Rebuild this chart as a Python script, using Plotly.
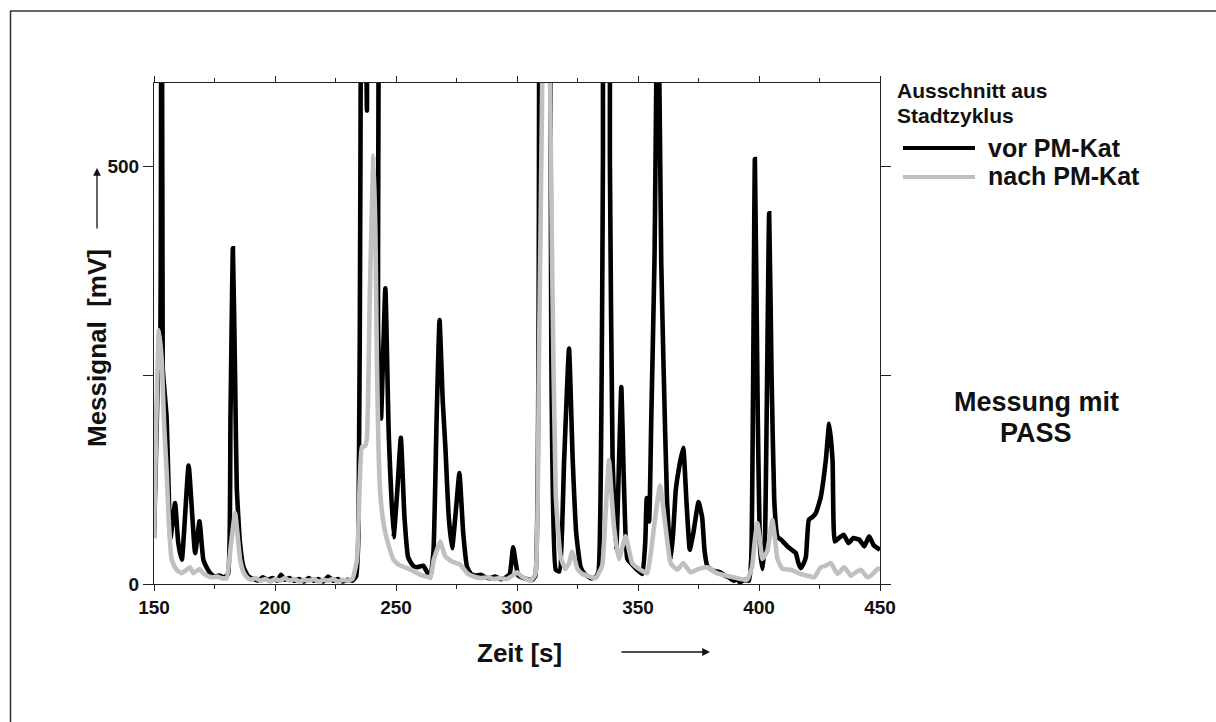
import plotly.graph_objects as go

# ---------------- data ----------------
t_vor = [150, 151.5, 152.6, 153.1, 153.6, 155.2, 156.8, 158.7, 160, 161.5, 164.3, 167, 168.8, 170.4,
         172.3, 173.5, 175, 177, 179, 180.6, 181.6, 182.6, 183.5, 184.2, 185.5, 187, 189, 191, 193,
         195, 197, 199, 201, 202.5, 204, 206, 208, 210, 212, 214, 216, 218, 220, 222, 224, 226, 228,
         230, 232, 233.5, 234.5, 235.3, 236, 237, 238, 239.5, 241.3, 242.6, 243.8, 245.6, 247, 249,
         250.5, 252, 253.5, 255, 257, 258.7, 261.3, 262.5, 264.2, 265.5, 266.8, 268, 269.3, 270.4,
         271.8, 273.2, 274.8, 276.2, 277.8, 279.4, 281, 283, 285, 287, 289, 291, 293, 295, 297,
         298.4, 299.5, 300.5, 302, 304, 306.3, 307.6, 309.2, 310.5, 312.5, 313.6, 314.2, 316, 317.5,
         319.5, 321.5, 323, 324.5, 326.3, 328, 330.4, 332.5, 333.7, 335.5, 336.5, 337.3, 338.4, 339.5,
         341, 342.2, 343.1, 344.2, 345.6, 348, 350, 351.8, 353, 353.6, 354.6, 355.5, 356.8, 358.2,
         359.6, 360.6, 362, 363.5, 364.5, 365.6, 367, 368.7, 370, 371.4, 372.8, 375, 376.5, 377.5,
         378.7, 381, 384, 386, 387.5, 389.6, 391, 392, 394, 395.8, 396.8, 398.3, 399.5, 400.5, 401.5,
         402.5, 404.2, 405.2, 406.3, 407.6, 409.5, 411.8, 413.5, 415.2, 416.3, 417.3, 418.5, 419.4,
         420.6, 422, 423.5, 425.5, 427.6, 429, 430.4, 431.3, 433, 435, 437, 439, 441.5, 443.5, 445.5,
         447.5, 450]
v_vor = [55, 240, 300, 1800, 260, 200, 55, 97, 50, 29, 142, 37, 75, 29,
         17, 12, 9, 10, 8, 12, 200, 402, 250, 116, 50, 20, 9, 6, 4,
         8, 5, 7, 4, 11, 5, 7, 4, 6, 3, 7, 4, 6, 3, 9, 4, 6, 3,
         5, 4, 9, 60, 500, 1200, 900, 567, 1200, 1200, 300, 198, 354, 180, 56,
         110, 175, 80, 32, 22, 20, 22, 16, 8, 40, 200, 316, 220, 164,
         80, 43, 90, 133, 60, 20, 12, 10, 11, 8, 7, 9, 6, 7, 12,
         44, 25, 10, 8, 6, 5, 10, 700, 1500, 1500, 900, 268, 17, 15,
         150, 282, 150, 60, 20, 12, 7, 8, 15, 500, 1500, 1500, 500, 150,
         40, 150, 236, 120, 30, 22, 16, 12, 50, 103, 75, 200, 386, 760,
         386, 256, 100, 29, 60, 112, 140, 163, 100, 41, 60, 98, 80, 40,
         21, 16, 14, 10, 8, 4, 6, 2, 5, 4, 30, 509, 200, 40, 18,
         60, 444, 250, 100, 57, 52, 45, 41, 37, 25, 19, 25, 33,
         77, 80, 85, 104, 148, 192, 148, 51, 55, 59, 49, 55, 53, 45, 57,
         46, 41]

t_nach = [150, 151, 152, 153.2, 154.2, 155.2, 156.2, 157.3, 159.3, 161.3, 163, 164.9, 166.3, 168.8,
          170.3, 171.8, 174, 176, 178, 180, 181.7, 183.5, 184.5, 185.6, 187, 188.4, 190, 192, 194,
          196, 198, 200, 202, 204, 206, 208, 210, 212, 214, 216, 218, 220, 222, 224, 226, 228, 230,
          232, 233.9, 235, 235.9, 237.2, 238, 239.2, 240.7, 241.5, 242.1, 242.8, 243.5, 245, 246.3,
          249, 251.2, 254.6, 258.7, 261, 264.2, 265.6, 268.3, 269.5, 270.4, 273.1, 276.6, 278, 279.4,
          282, 285, 288, 290.4, 293, 296, 298.6, 300, 302, 305.6, 307.6, 309, 310.5, 312, 313.5,
          314.5, 316, 318, 320, 321.5, 322.8, 325, 327, 329, 332.5, 335.2, 336.5, 338, 339, 340.1,
          342.1, 344.9, 347.6, 351, 353.8, 355.2, 356.6, 359.1, 360.3, 361.4, 363.5, 366.2, 368.7,
          371.7, 375, 378.7, 382.6, 385, 388.1, 391, 395, 397.1, 398.2, 399.3, 400.3, 401.4, 403.5,
          405.5, 406.6, 407.6, 409.7, 413.1, 417.3, 420, 422.8, 425.5, 427.5, 429.7, 432.4, 435.2,
          438, 440, 442.1, 444.8, 447, 449, 450]
v_nach = [55, 200, 304, 268, 190, 136, 70, 29, 17, 13, 16, 20, 13, 18,
          13, 10, 8, 9, 7, 7, 45, 85, 60, 29, 14, 8, 5, 7, 4,
          6, 3, 6, 4, 7, 4, 6, 3, 5, 4, 6, 3, 5, 4, 6, 3, 5, 4,
          6, 30, 120, 164, 165, 175, 350, 513, 420, 268, 160, 108, 70, 53,
          29, 23, 19, 13, 10, 8, 29, 51, 40, 33, 27, 23, 18, 13,
          9, 7, 8, 6, 7, 6, 11, 14, 9, 4, 12, 250, 620, 1000, 640,
          387, 108, 33, 18, 25, 39, 18, 12, 10, 7, 22, 80, 148, 110, 68,
          30, 57, 25, 17, 13, 35, 68, 118, 95, 68, 25, 17, 25,
          14, 18, 20, 13, 11, 9, 7, 5, 20, 50, 73, 55, 30, 40,
          77, 55, 30, 18, 17, 12, 10, 8, 20, 22, 25, 12, 20,
          10, 14, 17, 8, 12, 18, 18]

x_tickvals = [150, 200, 250, 300, 350, 400, 450]
x_ticktext = ["150", "200", "250", "300", "350", "400", "450"]
y_tickvals = [0, 250, 500]
y_ticktext = ["0", "", "500"]

series_names = ["vor PM-Kat", "nach PM-Kat"]
series_colors = ["#000000", "#c0c0c0"]
legend_title_lines = ["Ausschnitt aus", "Stadtzyklus"]
side_text_lines = ["Messung mit", "PASS"]
x_title = "Zeit [s]"
y_title = "Messignal&nbsp; [mV]"

# ---------------- figure ----------------
W, H = 1216, 722
L, R, T, B = 154, 880, 83, 584          # plot area in pixels
PW, PH = R - L, B - T


def px(xp):
    return (xp - L) / PW


def py(yp):
    return (B - yp) / PH


FONT = "Arial, Liberation Sans, Helvetica, sans-serif"

fig = go.Figure()
fig.add_trace(go.Scatter(x=t_vor, y=v_vor, mode="lines", name=series_names[0],
                         line=dict(color=series_colors[0], width=4.6, shape="spline",
                                   smoothing=0.4)))
fig.add_trace(go.Scatter(x=t_nach, y=v_nach, mode="lines", name=series_names[1],
                         line=dict(color=series_colors[1], width=4.6, shape="spline",
                                   smoothing=0.4)))

axis_common = dict(showgrid=False, zeroline=False, showline=True, linecolor="#222",
                   linewidth=1, mirror="ticks", ticks="outside", tickcolor="#222",
                   tickfont=dict(family=FONT, size=19, color="#111", weight="bold"))

fig.update_xaxes(range=[150, 450], tickmode="array", tickvals=x_tickvals, ticktext=x_ticktext,
                 ticklen=6, tickwidth=1,
                 minor=dict(dtick=25, tick0=150, ticklen=4, ticks="outside", tickcolor="#222"),
                 **axis_common)
fig.update_yaxes(range=[0, 600], tickmode="array", tickvals=y_tickvals, ticktext=y_ticktext,
                 ticklen=10, tickwidth=1, **axis_common)

ann = []
# axis titles
ann.append(dict(text=f"<b>{x_title}</b>", x=px(519), y=py(653), xref="paper", yref="paper",
                xanchor="center", yanchor="middle", showarrow=False,
                font=dict(family=FONT, size=26, color="#111")))
ann.append(dict(text=f"<b>{y_title}</b>", x=px(97), y=py(348), xref="paper", yref="paper",
                xanchor="center", yanchor="middle", showarrow=False, textangle=-90,
                font=dict(family=FONT, size=26, color="#111")))
# axis arrows
ann.append(dict(text="", x=px(97), y=py(168), xref="paper", yref="paper", showarrow=True,
                ax=0, ay=62, arrowhead=2, arrowsize=1.2, arrowwidth=1.3, arrowcolor="#111"))
ann.append(dict(text="", x=px(710), y=py(652), xref="paper", yref="paper", showarrow=True,
                ax=-90, ay=0, arrowhead=2, arrowsize=1.2, arrowwidth=1.3, arrowcolor="#111"))
# legend text
ann.append(dict(text=f"<b>{legend_title_lines[0]}</b>", x=px(895), y=py(91), xref="paper",
                yref="paper", xanchor="left", yanchor="middle", showarrow=False,
                font=dict(family=FONT, size=21, color="#111")))
ann.append(dict(text=f"<b>{legend_title_lines[1]}</b>", x=px(895), y=py(115), xref="paper",
                yref="paper", xanchor="left", yanchor="middle", showarrow=False,
                font=dict(family=FONT, size=21, color="#111")))
ann.append(dict(text=f"<b>{series_names[0]}</b>", x=px(986), y=py(148), xref="paper",
                yref="paper", xanchor="left", yanchor="middle", showarrow=False,
                font=dict(family=FONT, size=25, color="#111")))
ann.append(dict(text=f"<b>{series_names[1]}</b>", x=px(986), y=py(176), xref="paper",
                yref="paper", xanchor="left", yanchor="middle", showarrow=False,
                font=dict(family=FONT, size=25, color="#111")))
# side text
ann.append(dict(text=f"<b>{side_text_lines[0]}</b>", x=px(1036), y=py(402), xref="paper",
                yref="paper", xanchor="center", yanchor="middle", showarrow=False,
                font=dict(family=FONT, size=27, color="#111")))
ann.append(dict(text=f"<b>{side_text_lines[1]}</b>", x=px(1036), y=py(433), xref="paper",
                yref="paper", xanchor="center", yanchor="middle", showarrow=False,
                font=dict(family=FONT, size=27, color="#111")))

shapes = []
# legend line samples
shapes.append(dict(type="line", xref="paper", yref="paper", x0=px(903), x1=px(975),
                   y0=py(148), y1=py(148), line=dict(color=series_colors[0], width=4)))
shapes.append(dict(type="line", xref="paper", yref="paper", x0=px(903), x1=px(975),
                   y0=py(177), y1=py(177), line=dict(color=series_colors[1], width=4)))
# outer frame (left and top edges visible)
shapes.append(dict(type="line", xref="paper", yref="paper", x0=px(10.5), x1=px(10.5),
                   y0=py(11), y1=py(722), line=dict(color="#333", width=1.5)))
shapes.append(dict(type="line", xref="paper", yref="paper", x0=px(10), x1=px(1216),
                   y0=py(11), y1=py(11), line=dict(color="#333", width=1.5)))

fig.update_layout(width=W, height=H, autosize=False,
                  margin=dict(l=L, r=W - R, t=T, b=H - B, pad=0),
                  paper_bgcolor="white", plot_bgcolor="white", showlegend=False,
                  annotations=ann, shapes=shapes,
                  font=dict(family=FONT, color="#111"))

fig.write_html("out.html")
